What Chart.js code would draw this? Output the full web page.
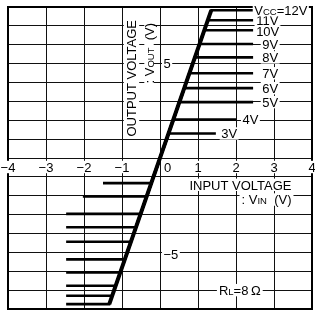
<!DOCTYPE html>
<html>
<head>
<meta charset="utf-8">
<script src="https://cdn.jsdelivr.net/npm/chart.js@4/dist/chart.umd.min.js"></script>
<style>
  body { margin: 0; background: #fff; }
  #wrap { width: 315px; height: 313px; }
</style>
</head>
<body>
<div id="wrap"><canvas id="chart" width="315" height="313"></canvas></div>
<script>
// Supply voltages of the curve family
const vcc = [3, 4, 5, 6, 7, 8, 9, 10, 11, 12];
// Saturated output (V) per supply, positive and negative swing
const voutHigh = [1.30, 2.04, 2.96, 3.70, 4.49, 5.33, 6.04, 6.77, 7.30, 7.83];
const voutLow = [-1.33, -2.04, -2.96, -3.67, -4.44, -5.37, -6.07, -6.77, -7.30, -7.74];
// Input range each curve was measured over
const vinLeft = [-1.50, -2.03, -2.47, -2.47, -2.47, -2.47, -2.47, -2.47, -2.47, -2.47];
const vinRight = [1.47, 2.00, 2.45, 2.45, 2.45, 2.45, 2.45, 2.45, 2.45, 2.45];
// Voltage gain of the linear part
const gain = 5.8;

const xTicks = [-4, -3, -2, -1, 0, 1, 2, 3, 4];
const yTickLabels = [5, -5];

const FONT = '"Liberation Sans", Arial, Helvetica, sans-serif';
const MINUS = '\u2212';

// one curve per supply voltage: flat low, linear, flat high
const datasets = vcc.map((v, i) => ({
    label: v + 'V',
    data: [
        { x: vinLeft[i], y: voutLow[i] },
        { x: voutLow[i] / gain, y: voutLow[i] },
        { x: voutHigh[i] / gain, y: voutHigh[i] },
        { x: vinRight[i], y: voutHigh[i] }
    ],
    borderColor: '#000',
    borderWidth: 2.6,
    showLine: true,
    pointRadius: 0,
    tension: 0
}));

// the shared linear part is printed heavier
const last = vcc.length - 1;
datasets.push({
    label: 'linear',
    data: [
        { x: voutLow[last] / gain, y: voutLow[last] },
        { x: voutHigh[last] / gain, y: voutHigh[last] }
    ],
    borderColor: '#000',
    borderWidth: 4,
    showLine: true,
    pointRadius: 0
});

// draws text made of parts, small parts are subscript caps
function drawLabel(ctx, parts, px, py, align, padX, padY, rotate) {
    const big = 13, small = 9.5;
    let w = 0;
    parts.forEach(p => {
        ctx.font = (p[1] ? small : big) + 'px ' + FONT;
        p.w = ctx.measureText(p[0]).width;
        w += p.w;
    });
    ctx.save();
    ctx.translate(px, py);
    if (rotate) ctx.rotate(-Math.PI / 2);
    let left = align === 'left' ? 0 : align === 'right' ? -w : -w / 2;
    ctx.fillStyle = '#fff';
    ctx.fillRect(left - padX, -4.7 - padY, w + padX * 2, 9.4 + padY * 2);
    ctx.fillStyle = '#000';
    ctx.textAlign = 'left';
    ctx.textBaseline = 'alphabetic';
    parts.forEach(p => {
        ctx.font = (p[1] ? small : big) + 'px ' + FONT;
        ctx.fillText(p[0], left, 4.7);
        left += p.w;
    });
    ctx.restore();
}

const annotations = {
    id: 'annotations',
    afterDatasetsDraw(chart) {
        const { ctx, chartArea: a, scales: { x, y } } = chart;
        ctx.save();
        ctx.strokeStyle = '#000';
        ctx.lineWidth = 2;
        ctx.strokeRect(a.left, a.top, a.right - a.left, a.bottom - a.top);

        const x0 = x.getPixelForValue(0);
        const y0 = y.getPixelForValue(0);

        // tick labels sit on the axes inside the grid
        xTicks.forEach(t => {
            const txt = t < 0 ? MINUS + Math.abs(t) : String(t);
            const px = t === 0 ? x0 + 7.5 : x.getPixelForValue(t);
            drawLabel(ctx, [[txt]], px, y0 + 9, 'center', 1, 1.5);
        });
        yTickLabels.forEach(t => {
            const txt = t < 0 ? MINUS + Math.abs(t) : String(t);
            drawLabel(ctx, [[txt]], x0 + 3.5, y.getPixelForValue(t) + (t < 0 ? 2 : 0), 'left', 1.5, 1.5);
        });

        // supply voltage labels at the end of each curve
        const gap = v => v >= 12 ? 0.03 : v >= 10 ? 0.08 : v >= 5 ? 0.24 : v === 4 ? 0.17 : 0.14;
        vcc.forEach((v, i) => {
            const parts = v === 12 ? [['V'], ['CC', true], ['=' + v + 'V']] : [[v + 'V']];
            const py = y.getPixelForValue(voutHigh[i]) + (v === 10 ? 1.5 : 0);
            drawLabel(ctx, parts, x.getPixelForValue(vinRight[i] + gap(v)), py, 'left', 1.5, 1.5);
        });

        // axis titles
        drawLabel(ctx, [['OUTPUT VOLTAGE']], 131.5, a.top + 13, 'right', 2, 3, true);
        drawLabel(ctx, [[': V'], ['OUT', true], ['  (V)']], 149, a.top + 16, 'right', 2, 0, true);
        drawLabel(ctx, [['INPUT VOLTAGE']], x.getPixelForValue(3.46), y.getPixelForValue(-1.42), 'right', 2, 1.5);
        drawLabel(ctx, [[': V'], ['IN', true], ['  (V)']], x.getPixelForValue(3.46), y.getPixelForValue(-2.2), 'right', 2, 1.5);

        // load condition
        drawLabel(ctx, [['R'], ['L', true], ['=8\u2009\u03A9']], x.getPixelForValue(2.1), y.getPixelForValue(-7), 'center', 2, 1.5);
        ctx.restore();
    }
};

new Chart(document.getElementById('chart').getContext('2d'), {
    type: 'scatter',
    data: { datasets },
    options: {
        responsive: false,
        animation: false,
        devicePixelRatio: 1,
        layout: { padding: { left: 8, top: 7, right: 3, bottom: 4 } },
        plugins: { legend: { display: false }, tooltip: { enabled: false } },
        scales: {
            x: {
                type: 'linear', min: -4, max: 4,
                ticks: { display: false, stepSize: 1 },
                grid: { color: '#111', lineWidth: 1, drawTicks: false },
                border: { display: false }
            },
            y: {
                type: 'linear', min: -8, max: 8,
                ticks: { display: false, stepSize: 1 },
                grid: { color: '#111', lineWidth: 1, drawTicks: false },
                border: { display: false }
            }
        }
    },
    plugins: [annotations]
});
</script>
</body>
</html>
